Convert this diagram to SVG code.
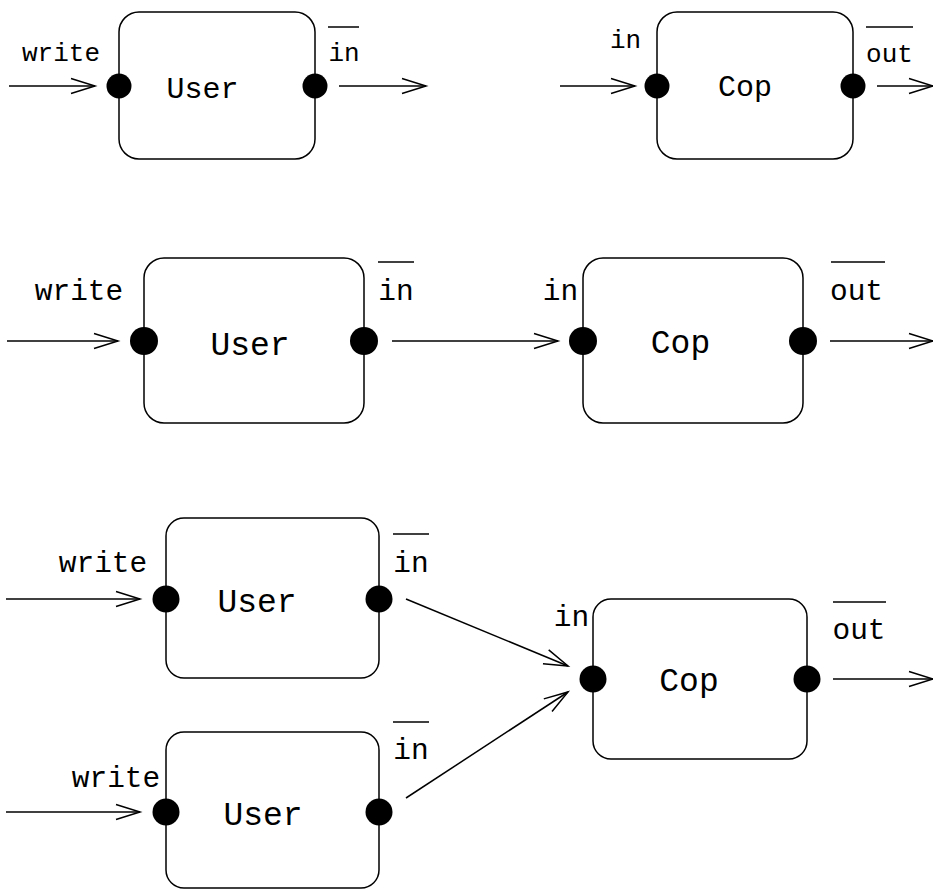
<svg xmlns="http://www.w3.org/2000/svg" width="933" height="890" viewBox="0 0 933 890">
<style>
.box{fill:none;stroke:#000;stroke-width:1.5}
.dot{fill:#000}
.con{fill:none;stroke:#000;stroke-width:1.5;marker-end:url(#ah)}
.ov{stroke:#000;stroke-width:1.5}
text{font-family:"Liberation Mono","Courier New",monospace;fill:#000;text-anchor:middle}
.l1{font-size:26px}.n1{font-size:30px}
.l2{font-size:29.5px}.n2{font-size:33px}
</style>
<defs>
<marker id="ah" markerUnits="userSpaceOnUse" markerWidth="30" markerHeight="20" viewBox="-26 -10 28 20" refX="0" refY="0" orient="auto">
<path d="M-24,-7.5 L0,0 L-24,7.5" fill="none" stroke="#000" stroke-width="1.5"/>
</marker>
</defs>
<rect width="933" height="890" fill="#fff"/>
<g id="connectors">
<line class="con" x1="9" y1="86" x2="95" y2="86"/>
<line class="con" x1="339" y1="86" x2="426" y2="86"/>
<line class="con" x1="560" y1="86" x2="635" y2="86"/>
<line class="con" x1="877" y1="86" x2="933" y2="86"/>
<line class="con" x1="7" y1="341" x2="118" y2="341"/>
<line class="con" x1="392" y1="341" x2="558" y2="341"/>
<line class="con" x1="830" y1="341" x2="933" y2="341"/>
<line class="con" x1="6" y1="599" x2="140" y2="599"/>
<line class="con" x1="6" y1="812" x2="140" y2="812"/>
<line class="con" x1="406" y1="599" x2="568" y2="666"/>
<line class="con" x1="406" y1="798" x2="568" y2="692"/>
<line class="con" x1="833" y1="679" x2="933" y2="679"/>
</g>
<g id="user1">
<rect class="box" x="119" y="12" width="196" height="147" rx="20"/>
<circle class="dot" cx="119" cy="86" r="12.5"/>
<circle class="dot" cx="315" cy="86" r="12.5"/>
<text class="n1" x="202.5" y="98">User</text>
<text class="l1" x="61" y="61">write</text>
<text class="l1" x="344" y="61">in</text>
<line class="ov" x1="328" y1="27" x2="359" y2="27"/>
</g>
<g id="cop1">
<rect class="box" x="657" y="12" width="196" height="147" rx="20"/>
<circle class="dot" cx="657" cy="86" r="12.5"/>
<circle class="dot" cx="853" cy="86" r="12.5"/>
<text class="n1" x="745" y="96">Cop</text>
<text class="l1" x="625.5" y="48">in</text>
<text class="l1" x="889.5" y="62">out</text>
<line class="ov" x1="866" y1="27" x2="913" y2="27"/>
</g>
<g id="user2">
<rect class="box" x="144" y="258" width="220" height="165" rx="20"/>
<circle class="dot" cx="144" cy="341" r="14"/>
<circle class="dot" cx="364" cy="341" r="14"/>
<text class="n2" x="250" y="355">User</text>
<text class="l2" x="79" y="300">write</text>
<text class="l2" x="396" y="300">in</text>
<line class="ov" x1="378" y1="262" x2="414" y2="262"/>
</g>
<g id="cop2">
<rect class="box" x="583" y="258" width="220" height="165" rx="20"/>
<circle class="dot" cx="583" cy="341" r="14"/>
<circle class="dot" cx="803" cy="341" r="14"/>
<text class="n2" x="680.5" y="353">Cop</text>
<text class="l2" x="560.5" y="300">in</text>
<text class="l2" x="856.5" y="300">out</text>
<line class="ov" x1="831" y1="262" x2="885" y2="262"/>
</g>
<g id="user3a">
<rect class="box" x="166" y="518" width="213" height="160" rx="18"/>
<circle class="dot" cx="166" cy="599" r="13.5"/>
<circle class="dot" cx="379" cy="599" r="13.5"/>
<text class="n2" x="257" y="612">User</text>
<text class="l2" x="103" y="572">write</text>
<text class="l2" x="411" y="572">in</text>
<line class="ov" x1="393" y1="534" x2="429" y2="534"/>
</g>
<g id="user3b">
<rect class="box" x="166" y="732" width="213" height="156" rx="18"/>
<circle class="dot" cx="166" cy="812" r="13.5"/>
<circle class="dot" cx="379" cy="812" r="13.5"/>
<text class="n2" x="263" y="825">User</text>
<text class="l2" x="116" y="787">write</text>
<text class="l2" x="411" y="759">in</text>
<line class="ov" x1="393" y1="722" x2="429" y2="722"/>
</g>
<g id="cop3">
<rect class="box" x="593" y="599" width="214" height="160" rx="18"/>
<circle class="dot" cx="593" cy="679" r="13.5"/>
<circle class="dot" cx="807" cy="679" r="13.5"/>
<text class="n2" x="689" y="691">Cop</text>
<text class="l2" x="571.5" y="626">in</text>
<text class="l2" x="859" y="639">out</text>
<line class="ov" x1="833" y1="602" x2="886" y2="602"/>
</g>
</svg>
